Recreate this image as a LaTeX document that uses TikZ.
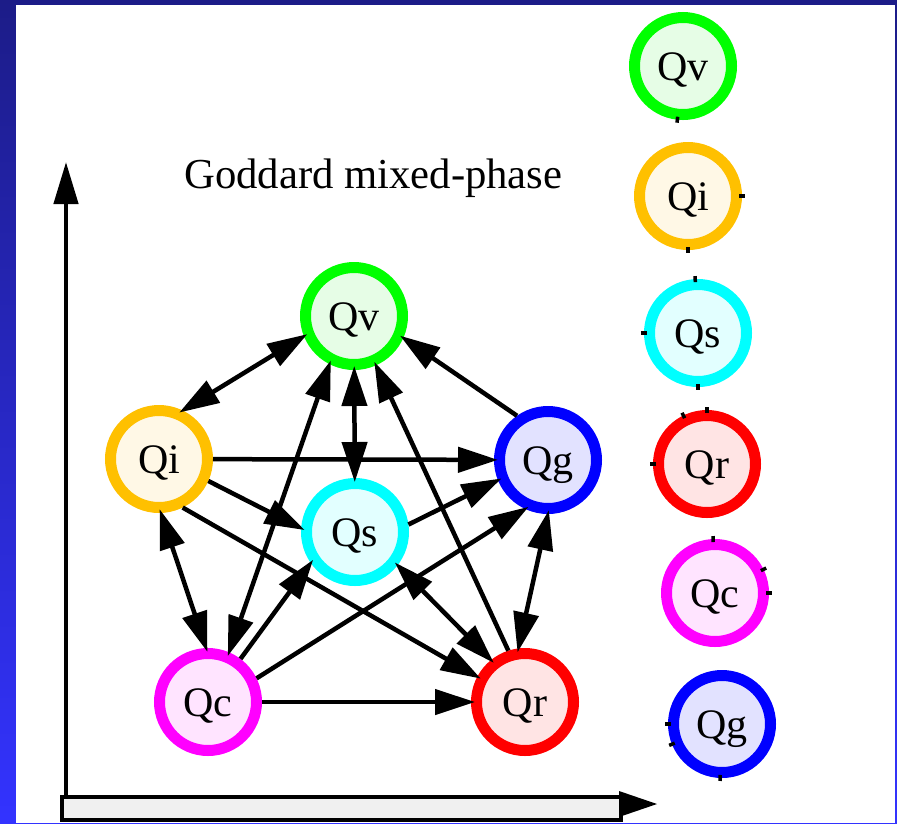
\documentclass[tikz,border=0pt]{standalone}
\usepackage{fontspec}
\setmainfont{Liberation Serif}
\usetikzlibrary{arrows.meta,calc}

\definecolor{bgtop}{RGB}{28,28,136}
\definecolor{bgbot}{RGB}{51,51,255}
\definecolor{vring}{RGB}{0,255,0}     \definecolor{vfill}{RGB}{230,253,230}
\definecolor{iring}{RGB}{255,192,0}   \definecolor{ifill}{RGB}{255,248,230}
\definecolor{sring}{RGB}{0,255,255}   \definecolor{sfill}{RGB}{226,255,255}
\definecolor{gring}{RGB}{0,0,255}     \definecolor{gfill}{RGB}{226,226,255}
\definecolor{rring}{RGB}{255,0,0}     \definecolor{rfill}{RGB}{255,228,228}
\definecolor{cring}{RGB}{255,0,255}   \definecolor{cfill}{RGB}{255,228,255}

\begin{document}
\begin{tikzpicture}[x=1pt,y=-1pt,
  qnode/.style={circle, line width=11pt, minimum size=97pt, inner sep=0pt,
    text height=28pt, text depth=0pt, font=\fontsize{42}{42}\selectfont},
  qv/.style={qnode, draw=vring, fill=vfill},
  qi/.style={qnode, draw=iring, fill=ifill},
  qs/.style={qnode, draw=sring, fill=sfill},
  qg/.style={qnode, draw=gring, fill=gfill},
  qr/.style={qnode, draw=rring, fill=rfill},
  qc/.style={qnode, draw=cring, fill=cfill},
  head/.tip={Triangle[length=40pt,width=25pt]},
  link/.style={line width=4.5pt, -head, shorten >=-4pt},
  dlink/.style={line width=4.5pt, head-head, shorten >=-4pt, shorten <=-4pt},
  stub/.style={line width=3.5pt, black},
  axis/.style={line width=4.5pt}]

% slide background and white panel
\useasboundingbox (0,0) rectangle (897,823);
\shade[top color=bgtop, bottom color=bgbot] (0,0) rectangle (897,823);
\fill[white] (16,5) rectangle (895,823);

% title
\node[anchor=base west, inner sep=0pt, font=\fontsize{42.7}{43}\selectfont]
  (title) at (184,188) {Goddard mixed-phase};

% axes
\coordinate (ybase) at (66,797);
\coordinate (ytip) at (66,162);
\draw[axis, -{Triangle[length=42pt,width=24pt]}] (ybase) -- (ytip);
\coordinate (barnw) at (62,797);
\coordinate (barse) at (621,820);
\draw[axis, fill=gray!12] (barnw) rectangle (barse);
\coordinate (xa) at (619,791);
\coordinate (xtip) at (657,804);
\coordinate (xb) at (619,817);
\fill (xa) -- (xtip) -- (xb) -- cycle;

% interaction graph
\node[qv] (Qv) at (354,316) {Qv};
\node[qi] (Qi) at (159,459) {Qi};
\node[qg] (Qg) at (548,460) {Qg};
\node[qs] (Qs) at (355,532) {Qs};
\node[qc] (Qc) at (208,702) {Qc};
\node[qr] (Qr) at (525,702) {Qr};

\draw[dlink] (Qi.64) -- (Qv.202);
\draw[link]  (Qg.125) -- (Qv.-24);
\draw[dlink] (Qv) -- (Qs);
\draw[link]  (Qi) -- (Qg);
\draw[link]  (Qi.-24) -- (Qs.176);
\draw[link]  (Qs.8) -- (Qg.202);
\draw[link]  (Qi.-64) -- (Qr.152);
\draw[link]  (Qr.108) -- (Qv.-66);
\draw[dlink] (Qv.243) -- (Qc.67);
\draw[dlink] (Qi.-88) -- (Qc.92);
\draw[link]  (Qc.53) -- (Qs.215);
\draw[link]  (Qc.26) -- (Qg.245);
\draw[dlink] (Qs.-38) -- (Qr.129);
\draw[link]  (Qc) -- (Qr);
\draw[dlink] (Qg.-90) -- (Qr.97);

% legend column
\node[qv] (Qv2) at (683,66)  {Qv};
\node[qi] (Qi2) at (688,196) {Qi};
\node[qs] (Qs2) at (698,333) {Qs};
\node[qr] (Qr2) at (707,464) {Qr};
\node[qc] (Qc2) at (715,593) {Qc};
\node[qg] (Qg2) at (722,724) {Qg};

\foreach \n/\a in {Qv2/264, Qi2/0, Qi2/270, Qs2/93, Qs2/180, Qs2/270,
                   Qr2/116, Qr2/90, Qr2/180, Qc2/92, Qc2/26, Qc2/0,
                   Qg2/180, Qg2/202, Qg2/268}
  \draw[stub] ($(\n.\a)!3pt!(\n.center)$) -- ($(\n.\a)!-3pt!(\n.center)$);
\end{tikzpicture}
\end{document}
